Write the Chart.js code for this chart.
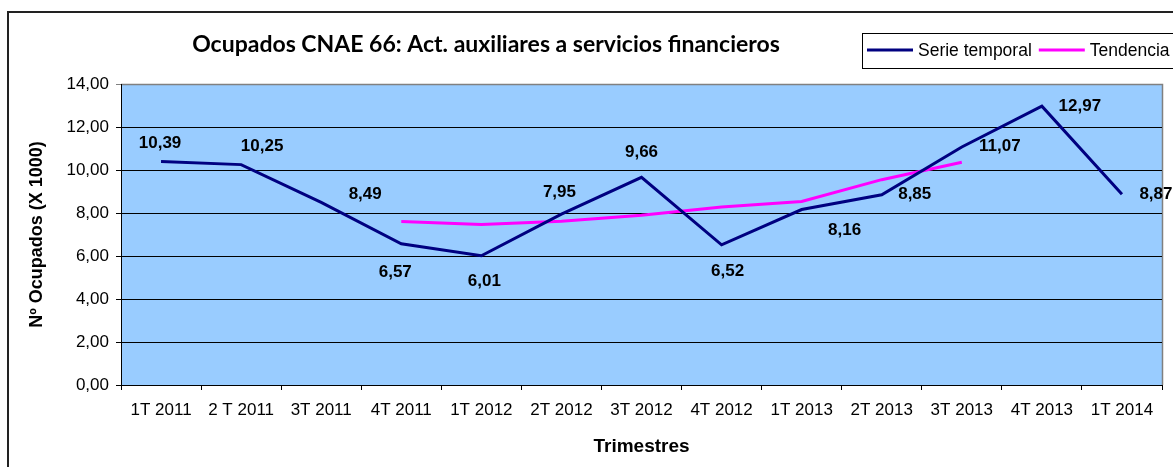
<!DOCTYPE html>
<html>
<head>
<meta charset="utf-8">
<script src="https://cdn.jsdelivr.net/npm/chart.js@4.4.1/dist/chart.umd.min.js"></script>
<style>
  html, body { margin: 0; padding: 0; background: #fff; }
  canvas { display: block; }
</style>
</head>
<body>
<canvas id="ocupadosChart" width="1173" height="467"></canvas>
<script>
const trimestres = ['1T 2011','2 T 2011','3T 2011','4T 2011','1T 2012','2T 2012','3T 2012',
                    '4T 2012','1T 2013','2T 2013','3T 2013','4T 2013','1T 2014'];

const serieTemporal = [10.39, 10.25, 8.49, 6.57, 6.01, 7.95, 9.66, 6.52, 8.16, 8.85, 11.07, 12.97, 8.87];

const tendencia = [null, null, null, 7.61, 7.47, 7.62, 7.89, 8.28, 8.54, 9.55, 10.36, null, null];

const yTicks = [0, 2, 4, 6, 8, 10, 12, 14];

// where each value label sits relative to its point (as placed in the original)
const labelOffsets = [[-1,-18],[21,-18],[44,-8],[-6,29],[3,26],[-2,-22],[0,-25],
                      [6,26],[43,21],[33,0],[38,-1],[38,0],[34,0]];

const coma = v => v.toFixed(2).replace('.', ',');
const FONT = '"Liberation Sans", Arial, sans-serif';

const decor = {
    id: 'decor',
    beforeDraw(chart) {
        const {ctx, chartArea: a} = chart;
        ctx.save();
        ctx.fillStyle = '#fff';
        ctx.fillRect(0, 0, chart.width, chart.height);
        ctx.fillStyle = '#99CCFF';
        ctx.fillRect(a.left, a.top, a.right - a.left, a.bottom - a.top);
        ctx.strokeStyle = '#808080';
        ctx.lineWidth = 1.5;
        ctx.beginPath();
        ctx.moveTo(a.left, a.top + 0.5);
        ctx.lineTo(a.right + 0.5, a.top + 0.5);
        ctx.lineTo(a.right + 0.5, a.bottom);
        ctx.stroke();
        ctx.restore();
    },
    afterDatasetsDraw(chart) {
        const {ctx} = chart;
        const meta = chart.getDatasetMeta(0);
        ctx.save();
        ctx.font = 'bold 17px ' + FONT;
        ctx.fillStyle = '#000';
        ctx.textAlign = 'center';
        ctx.textBaseline = 'middle';
        meta.data.forEach((pt, i) => {
            const [dx, dy] = labelOffsets[i];
            ctx.fillText(coma(serieTemporal[i]), pt.x + dx, pt.y + dy);
        });
        ctx.restore();
    },
    afterDraw(chart) {
        const {ctx} = chart;
        ctx.save();
        // outer frame
        ctx.strokeStyle = '#222';
        ctx.lineWidth = 2;
        ctx.strokeRect(8, 12, chart.width + 20, chart.height + 20);

        // title
        ctx.fillStyle = '#000';
        ctx.font = 'bold 23px Lato, "Open Sans", sans-serif';
        ctx.textAlign = 'center';
        ctx.textBaseline = 'middle';
        ctx.fillText('Ocupados CNAE 66: Act. auxiliares a servicios financieros', 486, 45);

        // legend box
        ctx.fillStyle = '#fff';
        ctx.fillRect(862, 33, 330, 35);
        ctx.strokeStyle = '#000';
        ctx.lineWidth = 1;
        ctx.strokeRect(862.5, 33.5, 330, 35);
        ctx.font = '17.5px ' + FONT;
        ctx.textAlign = 'left';
        let x = 867;
        chart.data.datasets.forEach(ds => {
            ctx.strokeStyle = ds.borderColor;
            ctx.lineWidth = 3;
            ctx.beginPath();
            ctx.moveTo(x, 50);
            ctx.lineTo(x + 46, 50);
            ctx.stroke();
            ctx.fillStyle = '#000';
            ctx.fillText(ds.label, x + 51, 51);
            x += 51 + ctx.measureText(ds.label).width + 7;
        });
        ctx.restore();
    }
};

Chart.defaults.color = '#000';
Chart.defaults.font.family = FONT;

new Chart(document.getElementById('ocupadosChart'), {
    type: 'line',
    data: {
        labels: trimestres,
        datasets: [{
            label: 'Serie temporal',
            data: serieTemporal,
            borderColor: '#000080',
            borderWidth: 3,
            pointRadius: 0,
            tension: 0
        }, {
            label: 'Tendencia',
            data: tendencia,
            borderColor: '#FF00FF',
            borderWidth: 3,
            pointRadius: 0,
            tension: 0,
            spanGaps: false
        }]
    },
    options: {
        responsive: false,
        animation: false,
        events: [],
        layout: { padding: { top: 84, right: 11, left: 0, bottom: 0 } },
        plugins: {
            legend: { display: false },
            title: { display: false },
            tooltip: { enabled: false }
        },
        scales: {
            x: {
                offset: true,
                grid: {
                    offset: true,
                    drawOnChartArea: false,
                    color: '#000',
                    tickLength: 5
                },
                border: { color: '#000', width: 1 },
                ticks: { font: { size: 17 }, padding: 10, maxRotation: 0, autoSkip: false },
                title: {
                    display: true,
                    text: 'Trimestres',
                    font: { size: 19, weight: 'bold' },
                    padding: { top: 0, bottom: 9 }
                },
                afterFit(scale) { scale.height = 82; }
            },
            y: {
                min: 0,
                max: 14,
                afterBuildTicks(scale) { scale.ticks = yTicks.map(v => ({ value: v })); },
                grid: {
                    color: c => c.tick && c.tick.value === 14 ? '#808080' : '#000',
                    lineWidth: 1,
                    tickLength: 5
                },
                border: { color: '#000', width: 1 },
                ticks: { font: { size: 17 }, padding: 7, callback: v => coma(v) },
                title: {
                    display: true,
                    text: 'Nº Ocupados (X 1000)',
                    font: { size: 18, weight: 'bold' },
                    padding: { top: 26, bottom: 0 }
                },
                afterFit(scale) { scale.width = 121; }
            }
        }
    },
    plugins: [decor]
});
</script>
</body>
</html>
